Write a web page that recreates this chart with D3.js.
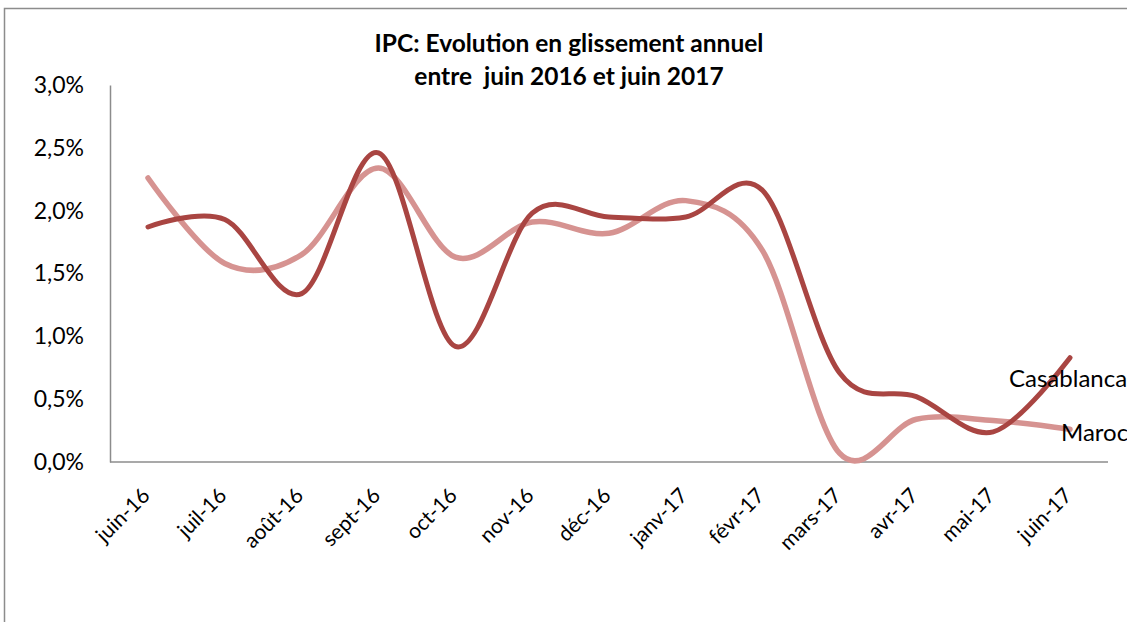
<!DOCTYPE html>
<html>
<head>
<meta charset="utf-8">
<script src="https://cdn.jsdelivr.net/npm/d3@7"></script>
<style>
  body { margin: 0; background: #fff; }
  svg { display: block; font-family: Lato, "Open Sans", sans-serif; }
  text { white-space: pre; }
</style>
</head>
<body>
<svg id="chart" width="1127" height="622"></svg>
<script>
//## data
var months = ["juin-16", "juil-16", "août-16", "sept-16", "oct-16", "nov-16", "déc-16",
              "janv-17", "févr-17", "mars-17", "avr-17", "mai-17", "juin-17"];
var casablanca = [1.87, 1.93, 1.34, 2.46, 0.92, 1.98, 1.95, 1.95, 2.16, 0.71, 0.52, 0.24, 0.83];
var maroc = [2.26, 1.58, 1.65, 2.34, 1.63, 1.91, 1.82, 2.08, 1.68, 0.07, 0.34, 0.33, 0.26];
var yTicks = [0, 0.5, 1, 1.5, 2, 2.5, 3];
var titleLines = ["IPC: Evolution en glissement annuel", "entre  juin 2016 et juin 2017"];

var col_casa = "#a94542",
    col_maroc = "#d69391",
    col_axis = "#8c8c8c";

var svg = d3.select("#chart");

// chart area border (right / bottom fall outside the picture)
svg.append("rect")
    .attr("x", 4.5).attr("y", 8.5)
    .attr("width", 1160).attr("height", 660)
    .attr("fill", "none")
    .attr("stroke", col_axis)
    .attr("stroke-width", 1.5);

var x = d3.scalePoint().domain(months).range([148, 1070]);
var y = d3.scaleLinear().domain([0, 3]).range([462, 85]);

//## title
svg.append("text")
    .attr("text-anchor", "middle")
    .attr("font-weight", "bold")
    .attr("font-size", 24.5)
    .selectAll("tspan")
    .data(titleLines)
    .enter().append("tspan")
    .attr("x", 569)
    .attr("y", function(d, i) { return 52 + i * 33; })
    .text(function(d) { return d; });

//## y axis
var yAxis = d3.axisLeft(y)
    .tickValues(yTicks)
    .tickSize(0)
    .tickPadding(26)
    .tickFormat(function(d) { return d.toFixed(1).replace(".", ",") + "%"; });

var gy = svg.append("g")
    .attr("transform", "translate(110,0)")
    .call(yAxis);
gy.select(".domain").attr("stroke", col_axis).attr("stroke-width", 1.5);
gy.selectAll("text")
    .attr("font-family", "Lato, sans-serif")
    .attr("font-size", 23)
    .attr("fill", "#000");

//## x axis
var gx = svg.append("g")
    .attr("transform", "translate(0,462)");
gx.append("line")
    .attr("x1", 110).attr("x2", 1108)
    .attr("stroke", col_axis)
    .attr("stroke-width", 1.5);
gx.selectAll(".xlab")
    .data(months)
    .enter().append("text")
    .attr("class", "xlab")
    .attr("text-anchor", "end")
    .attr("font-size", 21)
    .attr("transform", function(d) {
        return "translate(" + (x(d) + 3) + ",35) rotate(-45)";
    })
    .text(function(d) { return d; });

//## lines
var line = d3.line()
    .x(function(d, i) { return x(months[i]); })
    .y(function(d) { return y(d); })
    .curve(d3.curveCatmullRom.alpha(0));

var series = [
    { name: "Maroc", values: maroc, color: col_maroc, width: 5.5, dx: -9, dy: 12 },
    { name: "Casablanca", values: casablanca, color: col_casa, width: 5, dx: -61, dy: 29 }
];

svg.selectAll(".serie")
    .data(series)
    .enter().append("path")
    .attr("class", "serie")
    .attr("d", function(d) { return line(d.values); })
    .attr("fill", "none")
    .attr("stroke", function(d) { return d.color; })
    .attr("stroke-width", function(d) { return d.width; })
    .attr("stroke-linecap", "round");

//## series name labels at the last point
svg.selectAll(".lab")
    .data(series)
    .enter().append("text")
    .attr("class", "lab")
    .attr("x", function(d) { return x(months[months.length - 1]) + d.dx; })
    .attr("y", function(d) { return y(d.values[d.values.length - 1]) + d.dy; })
    .attr("font-size", 24)
    .text(function(d) { return d.name; });
</script>
</body>
</html>
